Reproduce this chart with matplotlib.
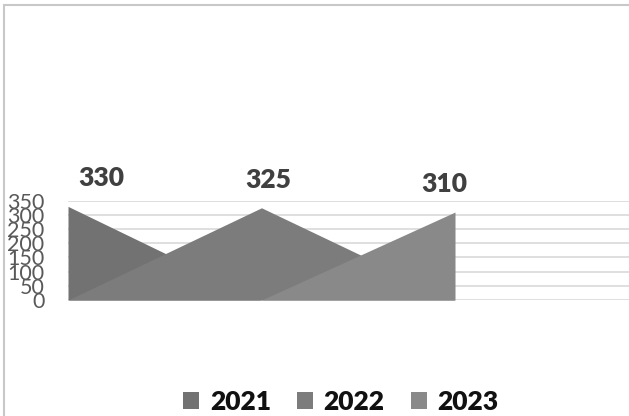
import matplotlib
matplotlib.use("Agg")
import matplotlib.pyplot as plt
from matplotlib.patches import Rectangle

# data
YEARS = ["2021", "2022", "2023"]
VALUES = [330, 325, 310]
Y_TICKS = [0, 50, 100, 150, 200, 250, 300, 350]

COLORS = ["#727272", "#7c7c7c", "#898989"]
C_GRID = "#d9d9d9"
C_TICK = "#595959"
C_LABEL = "#404040"
LABEL_DX = (24, 5, -8)  # label nudges, points

plt.rcParams["font.family"] = ["Lato", "DejaVu Sans"]

fig = plt.figure(figsize=(6.29, 4.16), dpi=100)
W, H = 629, 416
ax = fig.add_axes([68 / W, 116 / H, 1 - 68 / W, 99.3 / H])

x = list(range(len(YEARS)))
for i, (year, val) in enumerate(zip(YEARS, VALUES)):
    ys = [val if j == i else 0 for j in x]
    ax.fill_between(x, ys, color=COLORS[i], linewidth=0, label=year, zorder=2 + i)
    ax.annotate(str(val), xy=(i, val), xytext=(LABEL_DX[i], 14.5),
                textcoords="offset points", ha="center", va="baseline",
                fontsize=19, fontweight="heavy", color=C_LABEL,
                annotation_clip=False)

ax.set_xlim(0, (W - 68) / 193.5)
ax.set_ylim(0, 350)
ax.set_yticks(Y_TICKS)
ax.set_yticklabels([str(t) for t in Y_TICKS])
ax.tick_params(axis="y", length=0, pad=17, labelsize=15.5, labelcolor=C_TICK)
ax.set_xticks([])
ax.grid(axis="y", color=C_GRID, linewidth=1.2, zorder=0)
ax.set_axisbelow(True)
for s in ax.spines.values():
    s.set_visible(False)

leg = fig.legend(loc="center", bbox_to_anchor=(341 / W, 1 - 402 / H), ncol=3,
                 frameon=False, prop={"size": 19, "weight": "heavy"},
                 handlelength=0.6, handleheight=0.6, handletextpad=0.4,
                 columnspacing=1.0)
for t in leg.get_texts():
    t.set_color("#111111")

# outer chart frame
fig.patches.append(Rectangle((4 / W, -0.05), 1.2, 1 - 5 / H + 0.05,
                             transform=fig.transFigure, fill=False,
                             edgecolor="#c8c8c8", linewidth=1.5))

fig.savefig("out.png", dpi=100)
